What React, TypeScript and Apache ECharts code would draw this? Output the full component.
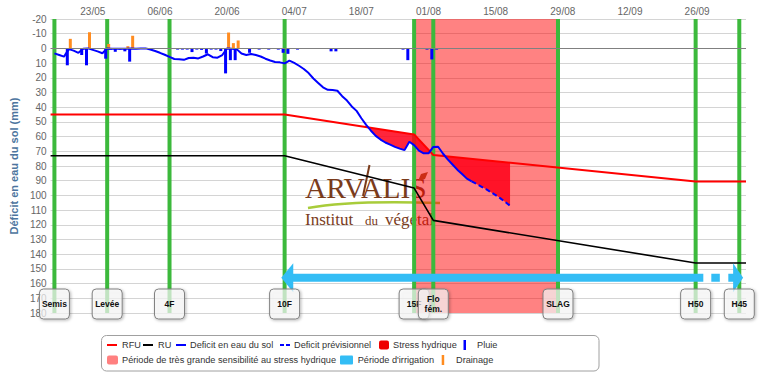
import React, { useEffect, useRef } from 'react';
import * as echarts from 'echarts';

// x values are day numbers counted from 14/05 (day 0)
const tickDays = [9, 23, 37, 51, 65, 79, 93, 107, 121, 135];
const tickLabels = ['23/05', '06/06', '20/06', '04/07', '18/07', '01/08', '15/08', '29/08', '12/09', '26/09'];
const axisMinDay = 0.2;
const axisMaxDay = 145.2;

const stageDays = [1, 12, 25, 49, 76, 80, 106, 134.7, 143.8];
const stageLabels = ['Semis', 'Levée', '4F', '10F', '15F', 'Flo\nfém.', 'SLAG', 'H50', 'H45'];

const rfuDays = [0.2, 49, 76, 80, 134.7, 145.2];
const rfuValues = [45, 45, 58.5, 72.5, 90.5, 90.5];
const ruDays = [0.2, 49, 76, 80, 134.7, 145.2];
const ruValues = [73, 73, 95, 117, 146, 146];

const deficitStartDay = 1;
const deficitObserved = [
  3.4, 4.5, 5.6, 0.5, 1.5, 3.0, 0.3, 0, 1.0, 2.0,
  3.3, 0, 0.3, 0.2, 0.3, 0.2, 0, 0.3, 0, 0,
  0.8, 1.8, 3.0, 4.3, 5.8, 7.2, 7.4, 7.8, 6.5, 6.3,
  6.8, 5.5, 4.0, 6.0, 6.3, 4.5, 0, 0.3, 0.5, 3.5,
  4.5, 3.8, 4.5, 5.5, 7.0, 8.2, 9.2, 9.5, 10.2, 8.3,
  9.8, 11.8, 14.0, 16.8, 20.5, 23.5, 26.5, 28.2, 28.3, 28.8,
  32.5, 35.5, 39.5, 42.5, 47.5, 52, 56, 59.5, 62, 64,
  65.5, 67, 68.2, 69.2, 63.5, 65.8, 69.5, 71.4, 71.4, 67,
  66.9, 71.5, 75.5, 79, 82.5, 85.5, 88.6, 90.4,
];
const forecastStartDay = 88;
const deficitForecast = [90.4, 92.2, 94.0, 95.8, 97.8, 99.8, 102, 104.5, 107];

const rainDays = [4, 7, 8, 12, 13, 14, 15, 16, 17, 27, 28, 29, 30, 31, 32, 33, 34, 35, 36, 37, 38, 39, 42, 44, 46, 48, 49, 50, 52, 59, 60, 74, 75, 79, 80, 81];
const rainMm = [11.5, 4.5, 11.5, 7, 0.8, 2.3, 0.8, 2, 9, 0.8, 0.8, 0.8, 2.5, 0.8, 1, 3.5, 0.8, 0.8, 1.8, 17, 8, 8, 3, 0.8, 0.8, 0.8, 3, 3.7, 0.8, 2, 2, 0.8, 8, 0.8, 7.5, 0.8];

const drainDays = [4, 8, 12, 16, 17, 37, 38, 39];
const drainMm = [-6.5, -11, -3, -1.5, -8.6, -10.8, -3.6, -5.4];

const sensitivityStart = 76;
const sensitivityEnd = 106;

const irrigationStart = 48.3;
const irrigationForecastFrom = 136.3;
const irrigationEnd = 144.6;
const irrigationLevel = 156;

const FONT = '"Liberation Sans", Arial, sans-serif';
const SERIF = '"Liberation Serif", "Times New Roman", serif';
const BROWN = '#7a3b1b';
const IRRIG = '#33bdf5';

function interp(xs: number[], ys: number[], x: number): number {
  if (x <= xs[0]) return ys[0];
  for (let i = 1; i < xs.length; i++) {
    if (x <= xs[i]) {
      const t = (x - xs[i - 1]) / (xs[i] - xs[i - 1]);
      return ys[i - 1] + t * (ys[i] - ys[i - 1]);
    }
  }
  return ys[ys.length - 1];
}

const defPoints: number[][] = [
  ...deficitObserved.map((v, i) => [deficitStartDay + i, v]),
  ...deficitForecast.slice(1).map((v, i) => [forecastStartDay + 1 + i, v]),
];

function buildStress(): number[][][] {
  const dx = defPoints.map((p) => p[0]);
  const dy = defPoints.map((p) => p[1]);
  const first = dx[0];
  const last = dx[dx.length - 1];
  const set = new Set<number>(dx);
  rfuDays.forEach((d) => {
    if (d > first && d < last) set.add(d);
  });
  const xs = Array.from(set).sort((a, b) => a - b);
  const rfu = (x: number) => interp(rfuDays, rfuValues, x);
  const def = (x: number) => interp(dx, dy, x);
  const diff = (x: number) => def(x) - rfu(x);
  const polys: number[][][] = [];
  let cur: number[][] | null = null;
  for (let i = 0; i < xs.length; i++) {
    const x = xs[i];
    const dv = diff(x);
    if (i > 0) {
      const px = xs[i - 1];
      const pd = diff(px);
      if (pd > 0 !== dv > 0) {
        const cx = px + ((x - px) * pd) / (pd - dv);
        const cy = rfu(cx);
        if (pd > 0) {
          if (cur) {
            cur.push([cx, cy, cy]);
            polys.push(cur);
          }
          cur = null;
        } else {
          cur = [[cx, cy, cy]];
        }
      }
    }
    if (dv > 0) {
      if (!cur) cur = [];
      cur.push([x, rfu(x), def(x)]);
    }
  }
  if (cur) polys.push(cur);
  return polys;
}

const stressPolys = buildStress();

function legendText(x: number, y: number, text: string) {
  return {
    type: 'text',
    x,
    y,
    z: 20,
    style: { text, fill: '#333', fontSize: 9.2, fontFamily: FONT, verticalAlign: 'middle' },
  };
}

export default function App() {
  const ref = useRef<HTMLDivElement>(null);

  useEffect(() => {
    if (!ref.current) return;
    const chart = echarts.init(ref.current, undefined, { renderer: 'svg' });

    const graphicElements: any[] = [
      // Logo watermark
      { type: 'text', x: 305, y: 187.5, z: 1, style: { text: 'ARVALIS', fill: BROWN, fontSize: 29.5, fontFamily: SERIF, verticalAlign: 'middle' } },
      { type: 'line', z: 1, shape: { x1: 363, y1: 196, x2: 369.5, y2: 165 }, style: { stroke: BROWN, lineWidth: 2 } },
      { type: 'polygon', z: 1, shape: { points: [[418, 181], [421, 174], [428, 172], [425, 179]] }, style: { fill: '#9b5a2a' } },
      { type: 'bezierCurve', z: 1, shape: { x1: 308, y1: 208, cpx1: 350, cpy1: 200, x2: 440, y2: 203 }, style: { stroke: '#a8cc3a', lineWidth: 2.5, fill: null } },
      { type: 'text', x: 305, y: 219, z: 1, style: { text: 'Institut', fill: BROWN, fontSize: 17, fontFamily: SERIF, verticalAlign: 'middle' } },
      { type: 'text', x: 365, y: 220, z: 1, style: { text: 'du', fill: BROWN, fontSize: 13, fontFamily: SERIF, verticalAlign: 'middle' } },
      { type: 'text', x: 385, y: 219, z: 1, style: { text: 'végétal', fill: BROWN, fontSize: 17, fontFamily: SERIF, verticalAlign: 'middle' } },
      // Legend box
      { type: 'rect', z: 20, shape: { x: 101.5, y: 335.5, width: 497.5, height: 35.5, r: 5 }, style: { fill: '#fff', stroke: '#a0a0a0', lineWidth: 1 } },
      { type: 'line', z: 21, shape: { x1: 107, y1: 345, x2: 117, y2: 345 }, style: { stroke: '#ff0000', lineWidth: 2 } },
      legendText(122, 345, 'RFU'),
      { type: 'line', z: 21, shape: { x1: 143, y1: 345, x2: 153, y2: 345 }, style: { stroke: '#000', lineWidth: 2 } },
      legendText(158, 345, 'RU'),
      { type: 'line', z: 21, shape: { x1: 176, y1: 345, x2: 186, y2: 345 }, style: { stroke: '#0000ff', lineWidth: 2 } },
      legendText(190, 345, 'Deficit en eau du sol'),
      { type: 'line', z: 21, shape: { x1: 280, y1: 345, x2: 290, y2: 345 }, style: { stroke: '#0000ff', lineWidth: 2, lineDash: [4, 2] } },
      legendText(294, 345, 'Deficit prévisionnel'),
      { type: 'rect', z: 21, shape: { x: 379, y: 340.5, width: 10, height: 9, r: 2 }, style: { fill: '#ee0000' } },
      legendText(393, 345, 'Stress hydrique'),
      { type: 'rect', z: 21, shape: { x: 463.5, y: 340, width: 2.5, height: 10 }, style: { fill: '#0000ff' } },
      legendText(477, 345, 'Pluie'),
      { type: 'rect', z: 21, shape: { x: 107, y: 355.5, width: 11, height: 9, r: 2 }, style: { fill: '#ff8080' } },
      legendText(122, 360, 'Période de très grande sensibilité au stress hydrique'),
      { type: 'rect', z: 21, shape: { x: 340, y: 355.5, width: 13, height: 9, r: 1 }, style: { fill: IRRIG } },
      legendText(357.7, 360, "Période d'irrigation"),
      { type: 'rect', z: 21, shape: { x: 441.7, y: 355, width: 2.5, height: 10 }, style: { fill: '#ff8c20' } },
      legendText(456, 360, 'Drainage'),
    ];

    const option: any = {
      animation: false,
      textStyle: { fontFamily: FONT },
      grid: { left: 48, right: 13, top: 19, bottom: 72, containLabel: false },
      xAxis: {
        type: 'value',
        position: 'top',
        min: axisMinDay,
        max: axisMaxDay,
        axisLine: { show: false },
        axisTick: { show: false },
        splitLine: { show: false },
        axisLabel: {
          customValues: tickDays,
          formatter: (v: number) => {
            const i = tickDays.indexOf(v);
            return i >= 0 ? tickLabels[i] : '';
          },
          color: '#666',
          fontSize: 10,
          margin: 3,
        },
      },
      yAxis: {
        type: 'value',
        inverse: true,
        min: -20,
        max: 180,
        interval: 10,
        name: 'Déficit en eau du sol (mm)',
        nameLocation: 'middle',
        nameGap: 27,
        nameRotate: 90,
        nameTextStyle: { color: '#4d759e', fontWeight: 'bold', fontSize: 11 },
        axisLine: { show: false },
        axisTick: { show: false },
        axisLabel: { color: '#666', fontSize: 10, margin: 4 },
        splitLine: { lineStyle: { color: '#d4d4d4', width: 1 } },
      },
      graphic: { elements: graphicElements },
      series: [
        {
          type: 'custom',
          name: 'Période de très grande sensibilité au stress hydrique',
          silent: true,
          z: 2,
          data: [[sensitivityStart, sensitivityEnd, -20, 180]],
          encode: { x: [0, 1], y: [2, 3] },
          renderItem: (params: any, api: any) => {
            const a = api.coord([api.value(0), api.value(2)]);
            const b = api.coord([api.value(1), api.value(3)]);
            return {
              type: 'rect',
              shape: { x: a[0], y: a[1], width: b[0] - a[0], height: b[1] - a[1] },
              style: { fill: 'rgba(255,0,0,0.49)' },
            };
          },
        },
        {
          type: 'custom',
          name: 'Stades',
          silent: true,
          z: 2,
          data: stageDays.map((d) => [d, -20, 180]),
          encode: { x: 0, y: [1, 2] },
          renderItem: (params: any, api: any) => {
            const a = api.coord([api.value(0), api.value(1)]);
            const b = api.coord([api.value(0), api.value(2)]);
            return {
              type: 'line',
              shape: { x1: a[0], y1: a[1], x2: b[0], y2: b[1] },
              style: { stroke: '#3cb93c', lineWidth: 4 },
            };
          },
        },
        {
          type: 'custom',
          name: 'Stress hydrique',
          silent: true,
          z: 2,
          data: stressPolys.map((p) => [p[0][0], p[0][1]]),
          encode: { x: 0, y: 1 },
          renderItem: (params: any, api: any) => {
            const poly = stressPolys[params.dataIndex];
            const pts: number[][] = [];
            poly.forEach((p) => pts.push(api.coord([p[0], p[1]])));
            for (let i = poly.length - 1; i >= 0; i--) pts.push(api.coord([poly[i][0], poly[i][2]]));
            return { type: 'polygon', shape: { points: pts }, style: { fill: 'rgba(255,0,25,0.85)' } };
          },
        },
        {
          type: 'line',
          name: 'RU',
          silent: true,
          z: 3,
          symbol: 'none',
          data: ruDays.map((d, i) => [d, ruValues[i]]),
          lineStyle: { color: '#000', width: 1.6 },
        },
        {
          type: 'line',
          name: 'RFU',
          silent: true,
          z: 3,
          symbol: 'none',
          data: rfuDays.map((d, i) => [d, rfuValues[i]]),
          lineStyle: { color: '#ff0000', width: 2 },
        },
        {
          type: 'line',
          name: 'Deficit en eau du sol',
          silent: true,
          z: 3,
          symbol: 'none',
          data: deficitObserved.map((v, i) => [deficitStartDay + i, v]),
          lineStyle: { color: '#0000ff', width: 2 },
        },
        {
          type: 'line',
          name: 'Deficit prévisionnel',
          silent: true,
          z: 3,
          symbol: 'none',
          data: deficitForecast.map((v, i) => [forecastStartDay + i, v]),
          lineStyle: { color: '#0000ff', width: 2, type: [5, 3] },
        },
        {
          type: 'bar',
          name: 'Pluie',
          silent: true,
          z: 3,
          barWidth: 3,
          barGap: '0%',
          data: rainDays.map((d, i) => [d, rainMm[i]]),
          itemStyle: { color: '#0000ff' },
          markLine: {
            silent: true,
            symbol: 'none',
            label: { show: false },
            lineStyle: { color: '#808080', width: 1, type: 'solid' },
            data: [{ yAxis: 0 }],
          },
        },
        {
          type: 'bar',
          name: 'Drainage',
          silent: true,
          z: 3,
          barWidth: 3,
          barGap: '0%',
          data: drainDays.map((d, i) => [d, drainMm[i]]),
          itemStyle: { color: '#ff8c20' },
        },
        {
          type: 'custom',
          name: "Période d'irrigation",
          silent: true,
          z: 4,
          data: [[irrigationStart, irrigationEnd, irrigationLevel, irrigationForecastFrom]],
          encode: { x: [0, 1], y: 2 },
          renderItem: (params: any, api: any) => {
            const a = api.coord([api.value(0), api.value(2)]);
            const b = api.coord([api.value(1), api.value(2)]);
            const f = api.coord([api.value(3), api.value(2)]);
            const y = a[1];
            const hl = 12;
            const hr = 10;
            const hh = 14.5;
            const th = 8;
            return {
              type: 'group',
              children: [
                { type: 'polygon', shape: { points: [[a[0], y], [a[0] + hl, y - hh], [a[0] + hl, y + hh]] }, style: { fill: IRRIG } },
                { type: 'rect', shape: { x: a[0] + hl - 1, y: y - th / 2, width: f[0] - (a[0] + hl - 1), height: th }, style: { fill: IRRIG } },
                { type: 'line', shape: { x1: f[0], y1: y, x2: b[0] - hr + 1, y2: y }, style: { stroke: IRRIG, lineWidth: th, lineDash: [8.5, 8.5], lineDashOffset: 8.5 } },
                { type: 'polygon', shape: { points: [[b[0], y], [b[0] - hr, y - hh], [b[0] - hr, y + hh]] }, style: { fill: IRRIG } },
              ],
            };
          },
        },
        {
          type: 'custom',
          name: 'Stades labels',
          silent: true,
          clip: false,
          z: 6,
          data: stageDays.map((d) => [d, 180]),
          encode: { x: 0, y: 1 },
          renderItem: (params: any, api: any) => {
            const p = api.coord([api.value(0), api.value(1)]);
            const cx = p[0];
            const by = p[1];
            return {
              type: 'group',
              children: [
                {
                  type: 'rect',
                  shape: { x: cx - 15, y: by - 24, width: 30, height: 30, r: 4 },
                  style: {
                    fill: 'rgba(255,255,255,0.65)',
                    stroke: '#808080',
                    lineWidth: 1,
                    shadowBlur: 3,
                    shadowOffsetX: 1,
                    shadowOffsetY: 1,
                    shadowColor: 'rgba(0,0,0,0.35)',
                  },
                },
                {
                  type: 'text',
                  x: cx,
                  y: by - 9,
                  style: {
                    text: stageLabels[params.dataIndex],
                    align: 'center',
                    verticalAlign: 'middle',
                    fontSize: 8.5,
                    fontWeight: 'bold',
                    fontFamily: FONT,
                    fill: '#111',
                    lineHeight: 10,
                  },
                },
              ],
            };
          },
        },
      ],
    };

    chart.setOption(option);
    return () => {
      chart.dispose();
    };
  }, []);

  return (
    <div
      ref={ref}
      style={{ position: 'absolute', left: 0, top: 0, width: 759, height: 385, background: '#fff' }}
    />
  );
}
